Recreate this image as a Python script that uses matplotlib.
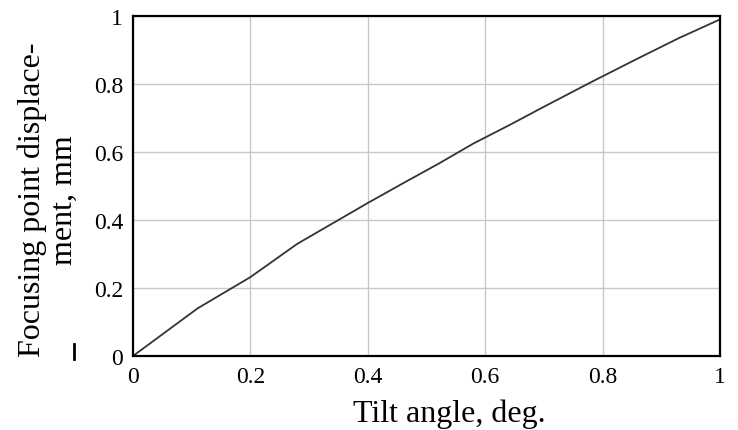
import matplotlib.pyplot as plt
from matplotlib.lines import Line2D

plt.rcParams["font.family"] = ["Liberation Serif", "DejaVu Serif"]

# Curve
tilt_angle = [0, 0.11, 0.2, 0.28, 0.34, 0.4, 0.46, 0.52, 0.58, 0.64, 0.7, 0.78, 0.86, 0.93, 1.0]
displacement = [0, 0.14, 0.232, 0.33, 0.39, 0.45, 0.508, 0.565, 0.625, 0.678, 0.733, 0.805, 0.875, 0.935, 0.99]

ticks = [0, 0.2, 0.4, 0.6, 0.8, 1]
tick_labels = ["0", "0.2", "0.4", "0.6", "0.8", "1"]

fig = plt.figure(figsize=(7.38, 4.31), dpi=100)
ax = fig.add_axes([0.1802, 0.1717, 0.7954, 0.7889])

ax.plot(tilt_angle, displacement, color="#333333", linewidth=1.3)

ax.set_xlim(0, 1)
ax.set_ylim(0, 1)
ax.set_xticks(ticks, tick_labels)
ax.set_yticks(ticks, tick_labels)
ax.tick_params(length=0, labelsize=17, pad=7)
ax.grid(color="#c8c8c8", linewidth=1.0)
for spine in ax.spines.values():
    spine.set_linewidth(1.6)
    spine.set_color("black")

ax.set_xlabel("Tilt angle, deg.", fontsize=23)
ax.xaxis.set_label_coords(0.539, -0.125)
fig.text(48 / 738, 1 - 200 / 431, "Focusing point displace-\nment, mm", fontsize=23,
         rotation=90, ha="center", va="center", multialignment="center", linespacing=1.1)
# small stray stroke left of the axis in the original
fig.add_artist(Line2D([74 / 738, 74 / 738], [1 - 345 / 431, 1 - 360 / 431],
                      transform=fig.transFigure, color="black", linewidth=2))

fig.savefig("out.png", dpi=100)
